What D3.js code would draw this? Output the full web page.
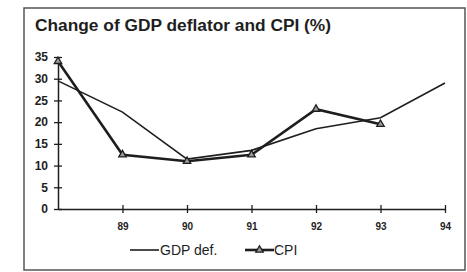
<!DOCTYPE html>
<html>
<head>
<meta charset="utf-8">
<script src="https://cdn.jsdelivr.net/npm/d3@7"></script>
<style>
  html, body { margin: 0; padding: 0; background: #fff; }
  svg { display: block; }
</style>
</head>
<body>
<script>
const years = [88, 89, 90, 91, 92, 93, 94];
const xTickLabels = ["89", "90", "91", "92", "93", "94"];
const gdpDef = [29.5, 22.3, 11.5, 13.5, 18.5, 21, 29];
const cpiYears = [88, 89, 90, 91, 92, 93];
const cpi = [34, 12.5, 11, 12.5, 23, 19.5];
const yTicks = [0, 5, 10, 15, 20, 25, 30, 35];

const W = 467, H = 272;
const svg = d3.select("body").append("svg").attr("width", W).attr("height", H);
const ink = "#1e1e1e";
const font = "'Liberation Sans', Arial, sans-serif";

// frame
svg.append("rect").attr("x", 24).attr("y", 8).attr("width", 441).attr("height", 262)
  .attr("fill", "#fff").attr("stroke", "#555").attr("stroke-width", 1.5);

// title
svg.append("text").attr("x", 35).attr("y", 31)
  .attr("font-family", font).attr("font-weight", "bold").attr("font-size", 16)
  .attr("textLength", 296).attr("lengthAdjust", "spacingAndGlyphs")
  .attr("fill", ink).text("Change of GDP deflator and CPI (%)");

const x = d3.scaleLinear().domain([88, 94]).range([58, 445]);
const y = d3.scaleLinear().domain([0, 35]).range([209, 57]);

// y axis
const yAxis = d3.axisLeft(y).tickValues(yTicks).tickSize(0).tickPadding(10);
const gy = svg.append("g").attr("transform", `translate(${x(88)},0)`).call(yAxis);
gy.select(".domain").attr("stroke", ink).attr("stroke-width", 1.5);
gy.selectAll(".tick text").attr("font-family", font).attr("font-weight", "bold")
  .attr("font-size", 12).attr("fill", ink);
gy.selectAll(".tick").append("line").attr("x1", -4).attr("x2", 4)
  .attr("stroke", ink).attr("stroke-width", 1.3);

// x axis
const xAxis = d3.axisBottom(x).tickValues(years.slice(1)).tickFormat((d, i) => xTickLabels[i])
  .tickSize(0).tickPadding(14);
const gx = svg.append("g").attr("transform", `translate(0,${y(0)})`).call(xAxis);
gx.select(".domain").attr("stroke", ink).attr("stroke-width", 1.5);
gx.selectAll(".tick text").attr("font-family", font).attr("font-weight", "bold")
  .attr("font-size", 10).attr("fill", ink);
gx.selectAll(".tick").append("line").attr("y1", -4).attr("y2", 4)
  .attr("stroke", ink).attr("stroke-width", 1.3);

// lines
const gdpLine = d3.line().x((d, i) => x(years[i])).y(d => y(d));
svg.append("path").datum(gdpDef).attr("d", gdpLine)
  .attr("fill", "none").attr("stroke", ink).attr("stroke-width", 1.6);

const cpiLine = d3.line().x((d, i) => x(cpiYears[i])).y(d => y(d));
svg.append("path").datum(cpi).attr("d", cpiLine)
  .attr("fill", "none").attr("stroke", ink).attr("stroke-width", 2.6);

const tri = d3.symbol().type(d3.symbolTriangle).size(24);
svg.selectAll(".cpiPt").data(cpi).enter().append("path")
  .attr("transform", (d, i) => `translate(${x(cpiYears[i])},${y(d)})`)
  .attr("d", tri).attr("fill", "#999").attr("stroke", ink).attr("stroke-width", 1.3);

// legend
const ly = 250;
const lg = svg.append("g");
lg.append("line").attr("x1", 130).attr("x2", 159).attr("y1", ly).attr("y2", ly)
  .attr("stroke", ink).attr("stroke-width", 1.6);
lg.append("text").attr("x", 160).attr("y", ly + 5).attr("font-family", font)
  .attr("font-size", 14).attr("fill", ink).text("GDP def.");
lg.append("line").attr("x1", 245).attr("x2", 274).attr("y1", ly).attr("y2", ly)
  .attr("stroke", ink).attr("stroke-width", 2.6);
lg.append("path").attr("transform", `translate(259.5,${ly})`).attr("d", tri)
  .attr("fill", "#999").attr("stroke", ink).attr("stroke-width", 1.3);
lg.append("text").attr("x", 274).attr("y", ly + 5).attr("font-family", font)
  .attr("font-size", 14).attr("fill", ink).text("CPI");
</script>
</body>
</html>
